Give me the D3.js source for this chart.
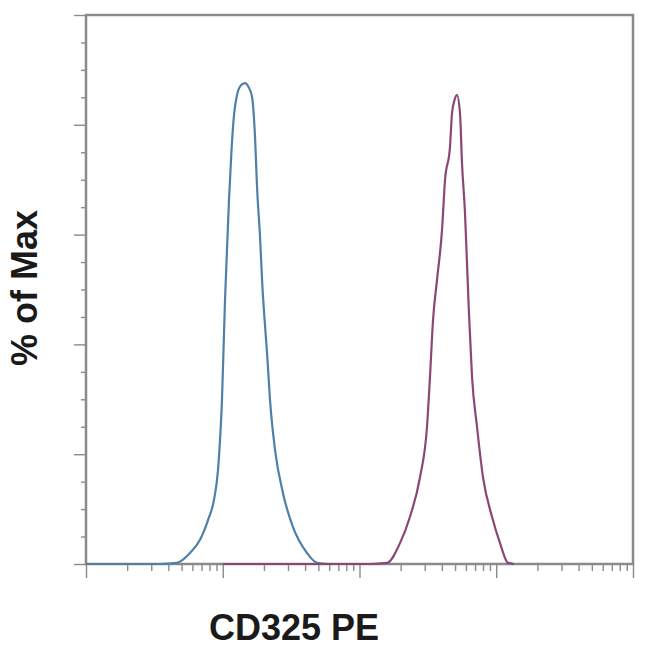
<!DOCTYPE html>
<html>
<head>
<meta charset="utf-8">
<script src="https://cdn.jsdelivr.net/npm/d3@7"></script>
<style>
  html, body { margin: 0; padding: 0; background: #fff; }
  svg { display: block; }
</style>
</head>
<body>
<svg id="chart" width="650" height="650"></svg>
<script>
// ---- data ----
const xLabel = "CD325 PE";
const yLabel = "% of Max";
const xDomain = [10, 100000];
const yDomain = [0, 100];
const xDecades = [10, 100, 1000, 10000, 100000];
const yMajorTicks = [0, 20, 40, 60, 80, 100];
const yMinorTicks = [5, 10, 15, 25, 30, 35, 45, 50, 55, 65, 70, 75, 85, 90, 95];

const blueX = [10, 20, 35, 46.2, 57.6, 68.2, 78.0, 86.3, 92.3, 95.5, 98.7, 101.3, 103.9, 107.4, 111.1, 115.9, 120.9, 127.1, 136.0, 145.5, 155, 163.7, 172.2, 178.1, 187.3, 195, 203, 212, 221.6, 241.1, 275.8, 326.4, 413.1, 488.9, 600];
const blueY = [0, 0, 0, 0.2, 2.0, 4.4, 8.0, 11.7, 17.1, 22.6, 29.9, 39.0, 48.1, 57.2, 66.3, 75.4, 81.8, 85.4, 87.2, 87.6, 86.8, 85.1, 77.8, 68.7, 59.6, 50.5, 44.0, 37.5, 29.9, 20.8, 12.9, 6.7, 2.0, 0.2, 0];

const purpleX = [100, 500, 1200, 1589, 1978, 2340, 2770, 3116, 3277, 3448, 3687, 4011, 4219, 4589, 4747, 4950, 5164, 5431, 5617, 5908, 6110, 6321, 6649, 7232, 8001, 9311, 10652, 12186, 13500];
const purpleY = [0, 0, 0, 0.2, 3.8, 8.6, 15.8, 25.0, 34.1, 44.4, 51.7, 60.8, 69.9, 76.0, 82.1, 84.5, 85.4, 82.1, 73.0, 63.9, 54.8, 45.5, 34.1, 25.0, 15.8, 8.6, 3.8, 0.2, 0];

// ---- layout ----
const mLeft = 86, mRight = 633, mTop = 15, mBottom = 564;
const svg = d3.select("#chart");

const x = d3.scaleLog().domain(xDomain).range([mLeft, mRight]);
const y = d3.scaleLinear().domain(yDomain).range([mBottom, mTop]);

const axisColor = "#8a8a8a";

// minor x ticks (2..9 in each decade)
const xMinor = [];
for (let i = 0; i < xDecades.length - 1; i++) {
  for (let k = 2; k <= 9; k++) xMinor.push(xDecades[i] * k);
}

// x axis ticks
const gx = svg.append("g").attr("transform", `translate(0,${mBottom})`);
gx.call(d3.axisBottom(x).tickValues(xDecades).tickSize(14).tickFormat(""));
gx.append("g").call(d3.axisBottom(x).tickValues(xMinor).tickSize(7).tickFormat(""));
gx.selectAll(".domain").remove();
gx.selectAll("line").attr("stroke", axisColor).attr("stroke-width", 1.4);

// y axis ticks
const gy = svg.append("g").attr("transform", `translate(${mLeft},0)`);
gy.call(d3.axisLeft(y).tickValues(yMajorTicks).tickSize(12).tickFormat(""));
gy.append("g").call(d3.axisLeft(y).tickValues(yMinorTicks).tickSize(5).tickFormat(""));
gy.selectAll(".domain").remove();
gy.selectAll("line").attr("stroke", axisColor).attr("stroke-width", 1.4);

// frame
svg.append("rect")
  .attr("x", mLeft).attr("y", mTop)
  .attr("width", mRight - mLeft).attr("height", mBottom - mTop)
  .attr("fill", "none").attr("stroke", axisColor).attr("stroke-width", 2.5);

// curves
const line = d3.line()
  .x(d => x(d[0]))
  .y(d => y(d[1]))
  .curve(d3.curveMonotoneX);

const blue = blueX.map((v, i) => [v, blueY[i]]);
const purple = purpleX.map((v, i) => [v, purpleY[i]]);

svg.append("path").datum(blue)
  .attr("d", line).attr("fill", "none")
  .attr("stroke", "#4f80a8").attr("stroke-width", 2.2)
  .attr("stroke-linejoin", "round");

svg.append("path").datum(purple)
  .attr("d", line).attr("fill", "none")
  .attr("stroke", "#8c4676").attr("stroke-width", 2.2)
  .attr("stroke-linejoin", "round");

// labels
svg.append("text")
  .attr("x", 294).attr("y", 640)
  .attr("text-anchor", "middle")
  .attr("font-family", "Liberation Sans, Arial, sans-serif")
  .attr("font-size", 36).attr("font-weight", "bold")
  .attr("fill", "#1a1a1a")
  .text(xLabel);

svg.append("text")
  .attr("transform", `translate(37,288) rotate(-90)`)
  .attr("text-anchor", "middle")
  .attr("font-family", "Liberation Sans, Arial, sans-serif")
  .attr("font-size", 36).attr("font-weight", "bold")
  .attr("fill", "#1a1a1a")
  .text(yLabel);
</script>
</body>
</html>
